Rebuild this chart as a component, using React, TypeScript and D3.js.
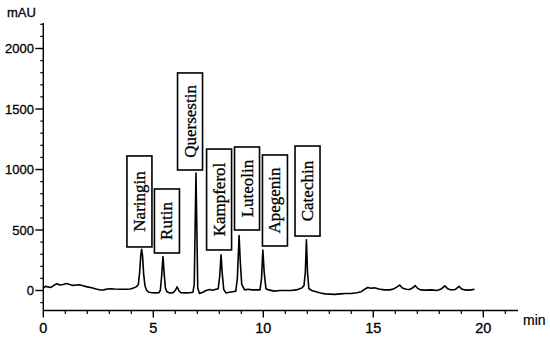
import React from "react";
import * as d3 from "d3";

// Chromatogram trace: retention time (min) and absorbance (mAU)
const times: number[] = [
  0.0, 0.1, 0.2, 0.35, 0.5, 0.62, 0.75, 0.9, 1.05, 1.2, 1.35, 1.5, 1.65, 1.8, 2.0, 2.2, 2.4, 2.6, 2.75, 2.9,
  3.05, 3.25, 3.5, 3.75, 3.95, 4.1, 4.22, 4.32, 4.38, 4.43, 4.47, 4.51, 4.56, 4.62, 4.7, 4.8, 4.95, 5.1, 5.25,
  5.32, 5.38, 5.44, 5.49, 5.55, 5.62, 5.75, 5.9, 6.0, 6.08, 6.16, 6.25, 6.45, 6.65, 6.8, 6.86, 6.9, 6.94, 6.98,
  7.02, 7.1, 7.25, 7.4, 7.55, 7.7, 7.85, 7.95, 8.02, 8.08, 8.13, 8.2, 8.3, 8.45, 8.6, 8.75, 8.82, 8.9, 8.95,
  9.02, 9.15, 9.3, 9.5, 9.7, 9.85, 9.92, 9.98, 10.04, 10.12, 10.25, 10.5, 10.75, 11.0, 11.25, 11.5, 11.75,
  11.85, 11.91, 11.96, 12.01, 12.07, 12.2, 12.4, 12.6, 12.8, 13.0, 13.25, 13.5, 13.75, 14.0, 14.25, 14.45,
  14.6, 14.75, 14.9, 15.05, 15.25, 15.5, 15.75, 15.95, 16.08, 16.2, 16.32, 16.5, 16.65, 16.78, 16.9, 17.0,
  17.15, 17.4, 17.65, 17.9, 18.08, 18.25, 18.38, 18.55, 18.72, 18.9, 19.0, 19.15, 19.38, 19.6,
];
const absorbance: number[] = [
  20, 35, 30, 25, 45, 55, 45, 50, 58, 50, 42, 45, 48, 40, 30, 22, 12, 4, 5, 12,
  15, 12, 10, 10, 12, 20, 30, 50, 150, 290, 340, 290, 140, 40, 0, -15, -18, -20, -18,
  0, 120, 280, 150, 20, -10, -20, -18, 0, 30, 0, -18, -20, -18, -15, 50, 500, 970, 500,
  20, -25, -15, 0, 8, 2, 10, 15, 120, 295, 150, 10, -20, -15, -10, -5, 100, 455, 250,
  50, 5, 10, 5, 5, 5, 100, 335, 150, 15, 5, -5, 0, 0, 0, 5, 20,
  40, 150, 420, 150, 15, 0, -10, -20, -28, -30, -32, -28, -25, -25, -18, -10,
  10, 25, 18, 22, 12, 5, 5, 15, 30, 45, 20, 10, 8, 20, 40, 20,
  5, 3, 5, 0, 12, 38, 15, 5, 8, 35, 15, 5, 3, 10,
];

// Compound annotations (box centre time in min, box bottom/top in mAU)
const compounds: string[] = ["Naringin", "Rutin", "Quersestin", "Kampferol", "Luteolin", "Apegenin", "Catechin"];
const labelTimes: number[] = [4.37, 5.62, 6.67, 7.99, 9.26, 10.53, 12.01];
const labelBottoms: number[] = [360, 310, 996, 335, 500, 368, 450];
const labelTops: number[] = [1112, 839, 1798, 1169, 1186, 1120, 1194];

const xTickLabels: number[] = [0, 5, 10, 15, 20];
const yTickLabels: number[] = [0, 500, 1000, 1500, 2000];

export default function App() {
  const W = 550;
  const H = 341;
  const x = d3.scaleLinear().domain([0, 20]).range([43.3, 483.3]);
  const y = d3.scaleLinear().domain([0, 2000]).range([290.5, 48.5]);
  const axisY = 310.5;
  const axisX = x(0);
  const xEnd = 518;
  const yTop = 23;

  const pts: [number, number][] = times.map((t, i) => [t, absorbance[i]]);
  const line = d3
    .line<[number, number]>()
    .x((d) => x(d[0]))
    .y((d) => y(d[1]));

  const xMinor = d3.range(0, 22, 1).filter((v) => !xTickLabels.includes(v));
  const yMinor = d3.range(-100, 2300, 100).filter((v) => !yTickLabels.includes(v));
  const sans = "'Liberation Sans', Arial, Helvetica, sans-serif";
  const serif = "'Liberation Serif', 'Times New Roman', serif";
  const boxW = 25;

  return (
    <svg
      width={W}
      height={H}
      viewBox={`0 0 ${W} ${H}`}
      style={{ position: "absolute", left: 0, top: 0, background: "#fff" }}
    >
      <rect x={0} y={0} width={W} height={H} fill="#fff" />
      {/* axes */}
      <line x1={axisX} x2={axisX} y1={yTop} y2={axisY} stroke="#000" strokeWidth={1.4} />
      <line x1={axisX} x2={xEnd} y1={axisY} y2={axisY} stroke="#000" strokeWidth={1.4} />
      {xTickLabels.map((v) => (
        <g key={`xm${v}`}>
          <line x1={x(v)} x2={x(v)} y1={axisY} y2={axisY + 7} stroke="#000" strokeWidth={1.4} />
          <text
            x={x(v)}
            y={328}
            textAnchor="middle"
            dominantBaseline="central"
            fontFamily={sans}
            fontSize={14.5}
            stroke="#000"
            strokeWidth={0.3}
          >
            {v}
          </text>
        </g>
      ))}
      {xMinor.map((v) => (
        <line key={`xn${v}`} x1={x(v)} x2={x(v)} y1={axisY} y2={axisY + 3.5} stroke="#000" strokeWidth={1.2} />
      ))}
      {yTickLabels.map((v) => (
        <g key={`ym${v}`}>
          <line x1={axisX - 8} x2={axisX} y1={y(v)} y2={y(v)} stroke="#000" strokeWidth={1.4} />
          <text
            x={34}
            y={y(v)}
            textAnchor="end"
            dominantBaseline="central"
            fontFamily={sans}
            fontSize={13}
            stroke="#000"
            strokeWidth={0.3}
          >
            {v}
          </text>
        </g>
      ))}
      {yMinor.map((v) => (
        <line key={`yn${v}`} x1={axisX - 3} x2={axisX} y1={y(v)} y2={y(v)} stroke="#000" strokeWidth={1.2} />
      ))}
      <text x={7} y={16.5} fontFamily={sans} fontSize={13} stroke="#000" strokeWidth={0.3}>
        mAU
      </text>
      <text x={523} y={320} dominantBaseline="central" fontFamily={sans} fontSize={14} stroke="#000" strokeWidth={0.2}>
        min
      </text>
      {/* trace */}
      <path d={line(pts) || ""} fill="none" stroke="#000" strokeWidth={1.6} strokeLinejoin="round" />
      {/* compound labels */}
      {compounds.map((name, i) => {
        const cx = x(labelTimes[i]);
        const yt = y(labelTops[i]);
        const yb = y(labelBottoms[i]);
        const cy = (yt + yb) / 2;
        return (
          <g key={name}>
            <rect x={cx - boxW / 2} y={yt} width={boxW} height={yb - yt} fill="#fff" stroke="#000" strokeWidth={1.6} />
            <text
              x={cx}
              y={cy}
              transform={`rotate(-90 ${cx} ${cy})`}
              textAnchor="middle"
              dominantBaseline="central"
              fontFamily={serif}
              fontSize={17}
              stroke="#000"
              strokeWidth={0.3}
            >
              {name}
            </text>
          </g>
        );
      })}
    </svg>
  );
}
